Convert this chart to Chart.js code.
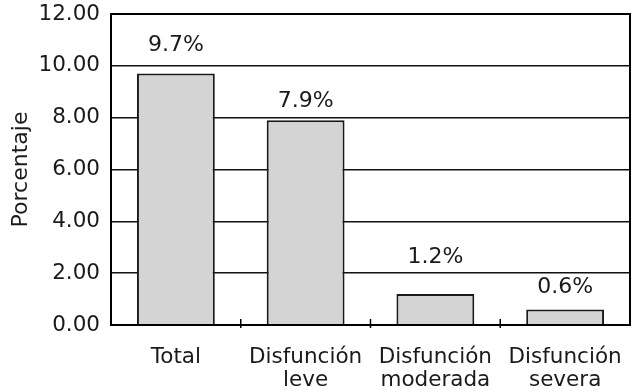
<!DOCTYPE html>
<html>
<head>
<meta charset="utf-8">
<script src="https://cdn.jsdelivr.net/npm/chart.js@4.4.0/dist/chart.umd.min.js"></script>
<style>
  html, body { margin: 0; padding: 0; background: #fff; }
  #wrap { width: 636px; height: 392px; }
</style>
</head>
<body>
<div id="wrap"><canvas id="c" width="636" height="392"></canvas></div>
<script>
// Categories (multi-line labels) and their percentages
const categories = [
  ['Total'],
  ['Disfunción', 'leve'],
  ['Disfunción', 'moderada'],
  ['Disfunción', 'severa']
];
const porcentajes = [9.7, 7.9, 1.2, 0.6];
const valueLabels = ['9.7%', '7.9%', '1.2%', '0.6%'];
const yTicks = [0, 2, 4, 6, 8, 10, 12];

const FONT = 'DejaVu Sans';
const TEXT = '#1a1a1a';

// Value labels above each bar
const valueLabelPlugin = {
  id: 'valueLabels',
  afterDatasetsDraw(chart, args, opts) {
    const ctx = chart.ctx;
    const meta = chart.getDatasetMeta(0);
    ctx.save();
    ctx.font = `${opts.size}px "${FONT}"`;
    ctx.fillStyle = TEXT;
    ctx.textAlign = 'center';
    ctx.textBaseline = 'middle';
    meta.data.forEach((bar, i) => {
      ctx.fillText(valueLabels[i], bar.x, bar.y - opts.lift[i]);
    });
    ctx.restore();
  }
};

// Frame around the plot and small separators between categories
const framePlugin = {
  id: 'frame',
  afterDatasetsDraw(chart) {
    const {ctx, chartArea: a, scales: {x}} = chart;
    ctx.save();
    ctx.strokeStyle = '#000';
    ctx.lineWidth = 2;
    ctx.strokeRect(a.left, a.top, a.right - a.left, a.bottom - a.top);
    ctx.lineWidth = 1.5;
    for (let i = 0; i < categories.length - 1; i++) {
      const px = (x.getPixelForValue(i) + x.getPixelForValue(i + 1)) / 2;
      ctx.beginPath();
      ctx.moveTo(px, a.bottom - 6);
      ctx.lineTo(px, a.bottom + 3);
      ctx.stroke();
    }
    ctx.restore();
  }
};

function noScalePadding(s) {
  s.paddingTop = 0;
  s.paddingBottom = 0;
  s.paddingLeft = 0;
  s.paddingRight = 0;
}

new Chart(document.getElementById('c'), {
  type: 'bar',
  data: {
    labels: categories,
    datasets: [{
      data: porcentajes,
      backgroundColor: '#d4d4d4',
      borderColor: '#1a1a1a',
      borderWidth: 2,
      categoryPercentage: 1,
      barPercentage: 0.6
    }]
  },
  options: {
    responsive: false,
    animation: false,
    devicePixelRatio: 1,
    layout: { padding: { left: 0, right: 6, top: 14, bottom: 0 } },
    plugins: {
      legend: { display: false },
      tooltip: { enabled: false },
      valueLabels: { size: 22, lift: [28, 18.5, 36.5, 22] }
    },
    scales: {
      x: {
        offset: true,
        grid: { display: false, drawTicks: false },
        border: { display: true, color: '#000', width: 2 },
        ticks: {
          color: TEXT,
          font: { family: FONT, size: 21.5, lineHeight: 1.08 },
          padding: 21,
          maxRotation: 0,
          autoSkip: false
        },
        afterFit(s) { s.height = 67; noScalePadding(s); }
      },
      y: {
        min: 0,
        max: 12,
        afterBuildTicks(s) { s.ticks = yTicks.map(v => ({ value: v })); },
        grid: { color: '#111', lineWidth: 1.5, drawTicks: false },
        border: { display: true, color: '#000', width: 2 },
        ticks: {
          color: TEXT,
          font: { family: FONT, size: 21.5 },
          padding: 11,
          callback: v => Number(v).toFixed(2)
        },
        title: {
          display: true,
          text: 'Porcentaje',
          color: TEXT,
          font: { family: FONT, size: 22, lineHeight: 1.2 },
          padding: { top: 8, bottom: 0 }
        },
        afterFit(s) { s.width = 111; noScalePadding(s); }
      }
    }
  },
  plugins: [valueLabelPlugin, framePlugin]
});
</script>
</body>
</html>
